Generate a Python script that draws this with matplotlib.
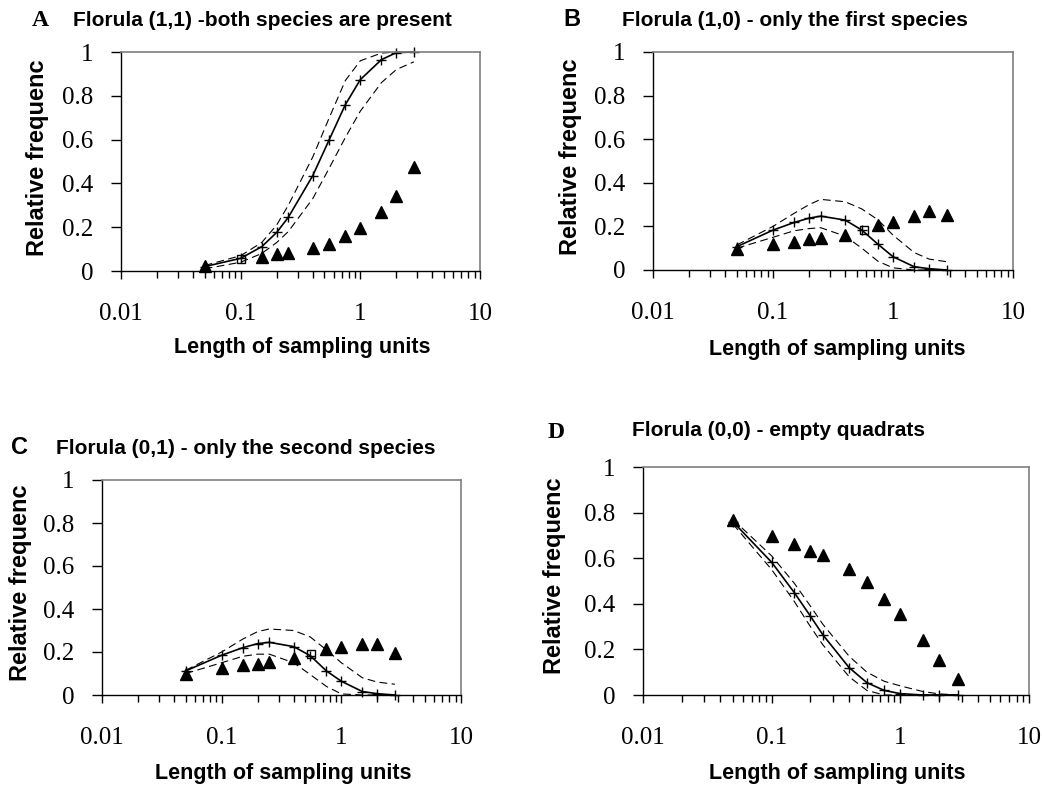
import numpy as np
import matplotlib
matplotlib.use('Agg')
import matplotlib.pyplot as plt
from matplotlib.ticker import FixedLocator, NullFormatter

W, H = 1042, 790
nan = np.nan

# sampling unit lengths (shared by all panels)
length = [0.05, 0.1, 0.15, 0.2, 0.25, 0.4, 0.55, 0.75, 1.0, 1.5, 2.0, 2.8]

# A - florula (1,1)
a_fit = [0.02, 0.058, 0.111, 0.176, 0.245, 0.435, 0.60, 0.76, 0.874, 0.965, 0.997, 1.0]
a_hi = [0.025, 0.07, 0.13, 0.21, 0.30, 0.52, 0.70, 0.87, 0.96, 0.995, 1.0, 1.0]
a_lo = [0.01, 0.04, 0.08, 0.13, 0.18, 0.33, 0.47, 0.61, 0.73, 0.86, 0.92, 0.955]
a_obs = [0.025, nan, 0.062, 0.076, 0.083, 0.105, 0.125, 0.158, 0.198, 0.269, 0.343, 0.474]
a_sq = (0.1, 0.053)

# B - florula (1,0)
b_fit = [0.107, 0.183, 0.218, 0.238, 0.247, 0.229, 0.183, 0.118, 0.061, 0.015, 0.006, 0.0]
b_hi = [0.115, 0.20, 0.26, 0.30, 0.324, 0.313, 0.28, 0.23, 0.16, 0.08, 0.05, 0.038]
b_lo = [0.10, 0.15, 0.18, 0.19, 0.194, 0.155, 0.10, 0.04, 0.01, 0.0, 0.0, 0.0]
b_obs = [0.095, 0.119, 0.127, 0.142, 0.148, 0.16, nan, 0.206, 0.22, 0.247, 0.269, 0.252]
b_sq = (0.57, 0.185)

# C - florula (0,1)
c_fit = [0.112, 0.185, 0.22, 0.239, 0.245, 0.225, 0.183, 0.112, 0.064, 0.016, 0.006, 0.0]
c_hi = [0.115, 0.20, 0.26, 0.295, 0.307, 0.30, 0.27, 0.21, 0.15, 0.08, 0.06, 0.05]
c_lo = [0.10, 0.15, 0.18, 0.19, 0.19, 0.15, 0.095, 0.04, 0.005, 0.0, 0.0, 0.0]
c_obs = [0.099, 0.126, 0.141, 0.146, 0.154, 0.174, nan, 0.214, 0.224, 0.238, 0.238, 0.197]
c_sq = (0.56, 0.193)

# D - florula (0,0)
d_fit = [0.76, 0.582, 0.449, 0.346, 0.264, 0.12, 0.054, 0.02, 0.006, 0.0, 0.0, 0.0]
d_hi = [0.77, 0.61, 0.49, 0.39, 0.31, 0.17, 0.10, 0.06, 0.04, 0.015, 0.005, 0.0]
d_lo = [0.75, 0.55, 0.41, 0.30, 0.22, 0.08, 0.02, 0.0, 0.0, 0.0, 0.0, 0.0]
d_obs = [0.768, 0.699, 0.661, 0.633, 0.613, 0.554, 0.496, 0.42, 0.356, 0.243, 0.152, 0.07]

sans = 'Liberation Sans'
serif = 'Liberation Serif'

fig = plt.figure(figsize=(W / 100, H / 100), dpi=100)


def px(x, y):
    return x / W, 1 - y / H


def panel(box, fit, hi, lo, obs, sq=None):
    l, t, r, b = box
    ax = fig.add_axes([l / W, 1 - b / H, (r - l) / W, (b - t) / H])
    ax.set_xscale('log')
    ax.set_xlim(0.01, 10)
    ax.set_ylim(0, 1)

    ax.plot(length, hi, color='k', lw=0.8, dashes=(7, 4), clip_on=False)
    ax.plot(length, lo, color='k', lw=0.8, dashes=(7, 4), clip_on=False)
    ax.plot(length, fit, color='k', lw=1.2, marker='+', ms=7, mew=1.0, clip_on=False)
    ax.plot(length, obs, ls='none', marker='^', ms=8, color='k', clip_on=False)
    if sq is not None:
        ax.plot([sq[0]], [sq[1]], ls='none', marker='s', ms=5.5, mfc='none',
                mec='k', mew=1.0, clip_on=False)

    ax.xaxis.set_major_locator(FixedLocator([0.01, 0.1, 1, 10]))
    ax.set_xticklabels(['0.01', '0.1', '1', '10'])
    minors = [m * d for d in (0.01, 0.1, 1) for m in range(2, 10)]
    ax.xaxis.set_minor_locator(FixedLocator(minors))
    ax.xaxis.set_minor_formatter(NullFormatter())
    ax.set_yticks([0, 0.2, 0.4, 0.6, 0.8, 1])
    ax.set_yticklabels(['0', '0.2', '0.4', '0.6', '0.8', '1'])

    ax.tick_params(axis='x', which='major', direction='out', length=6, width=1,
                   pad=17, labelsize=18)
    ax.tick_params(axis='x', which='minor', direction='out', length=5, width=1)
    ax.tick_params(axis='y', which='major', direction='out', length=7, width=1,
                   pad=13, labelsize=18)
    for lab in ax.get_xticklabels() + ax.get_yticklabels():
        lab.set_fontfamily(serif)

    for s in ('top', 'right'):
        ax.spines[s].set_color('#7f7f7f')
        ax.spines[s].set_linewidth(1.2)
    for s in ('left', 'bottom'):
        ax.spines[s].set_color('k')
        ax.spines[s].set_linewidth(1.0)
    return ax


panel((121, 52, 480, 271), a_fit, a_hi, a_lo, a_obs, a_sq)
panel((653, 52, 1013, 270), b_fit, b_hi, b_lo, b_obs, b_sq)
panel((102, 480, 461, 695), c_fit, c_hi, c_lo, c_obs, c_sq)
panel((643, 467, 1029, 695), d_fit, d_hi, d_lo, d_obs)

# panel letters and titles
letters = [('A', 40, 21, serif), ('B', 572, 20, sans), ('C', 20, 448, sans), ('D', 556, 433, serif)]
for txt, x, y, fam in letters:
    fig.text(*px(x, y), txt, family=fam, weight='bold', fontsize=17,
             ha='center', va='center')

titles = [('Florula (1,1) -both species are present', 73, 20),
          ('Florula (1,0) - only the first species', 622, 20),
          ('Florula (0,1) - only the second species', 56, 448),
          ('Florula (0,0) - empty quadrats', 632, 431)]
for txt, x, y in titles:
    fig.text(*px(x, y), txt, family=sans, weight='bold', fontsize=15,
             ha='left', va='center')

# axis labels
for x, y in [(38, 158), (571, 157), (21, 583), (554, 576)]:
    fig.text(*px(x, y), 'Relative frequenc', family=sans, weight='bold',
             fontsize=17, rotation=90, ha='center', va='center')
for x, y in [(302, 348), (837, 350), (283, 773), (837, 773)]:
    fig.text(*px(x, y), 'Length of sampling units', family=sans, weight='bold',
             fontsize=15.5, ha='center', va='center')

fig.savefig('out.png', dpi=100)
